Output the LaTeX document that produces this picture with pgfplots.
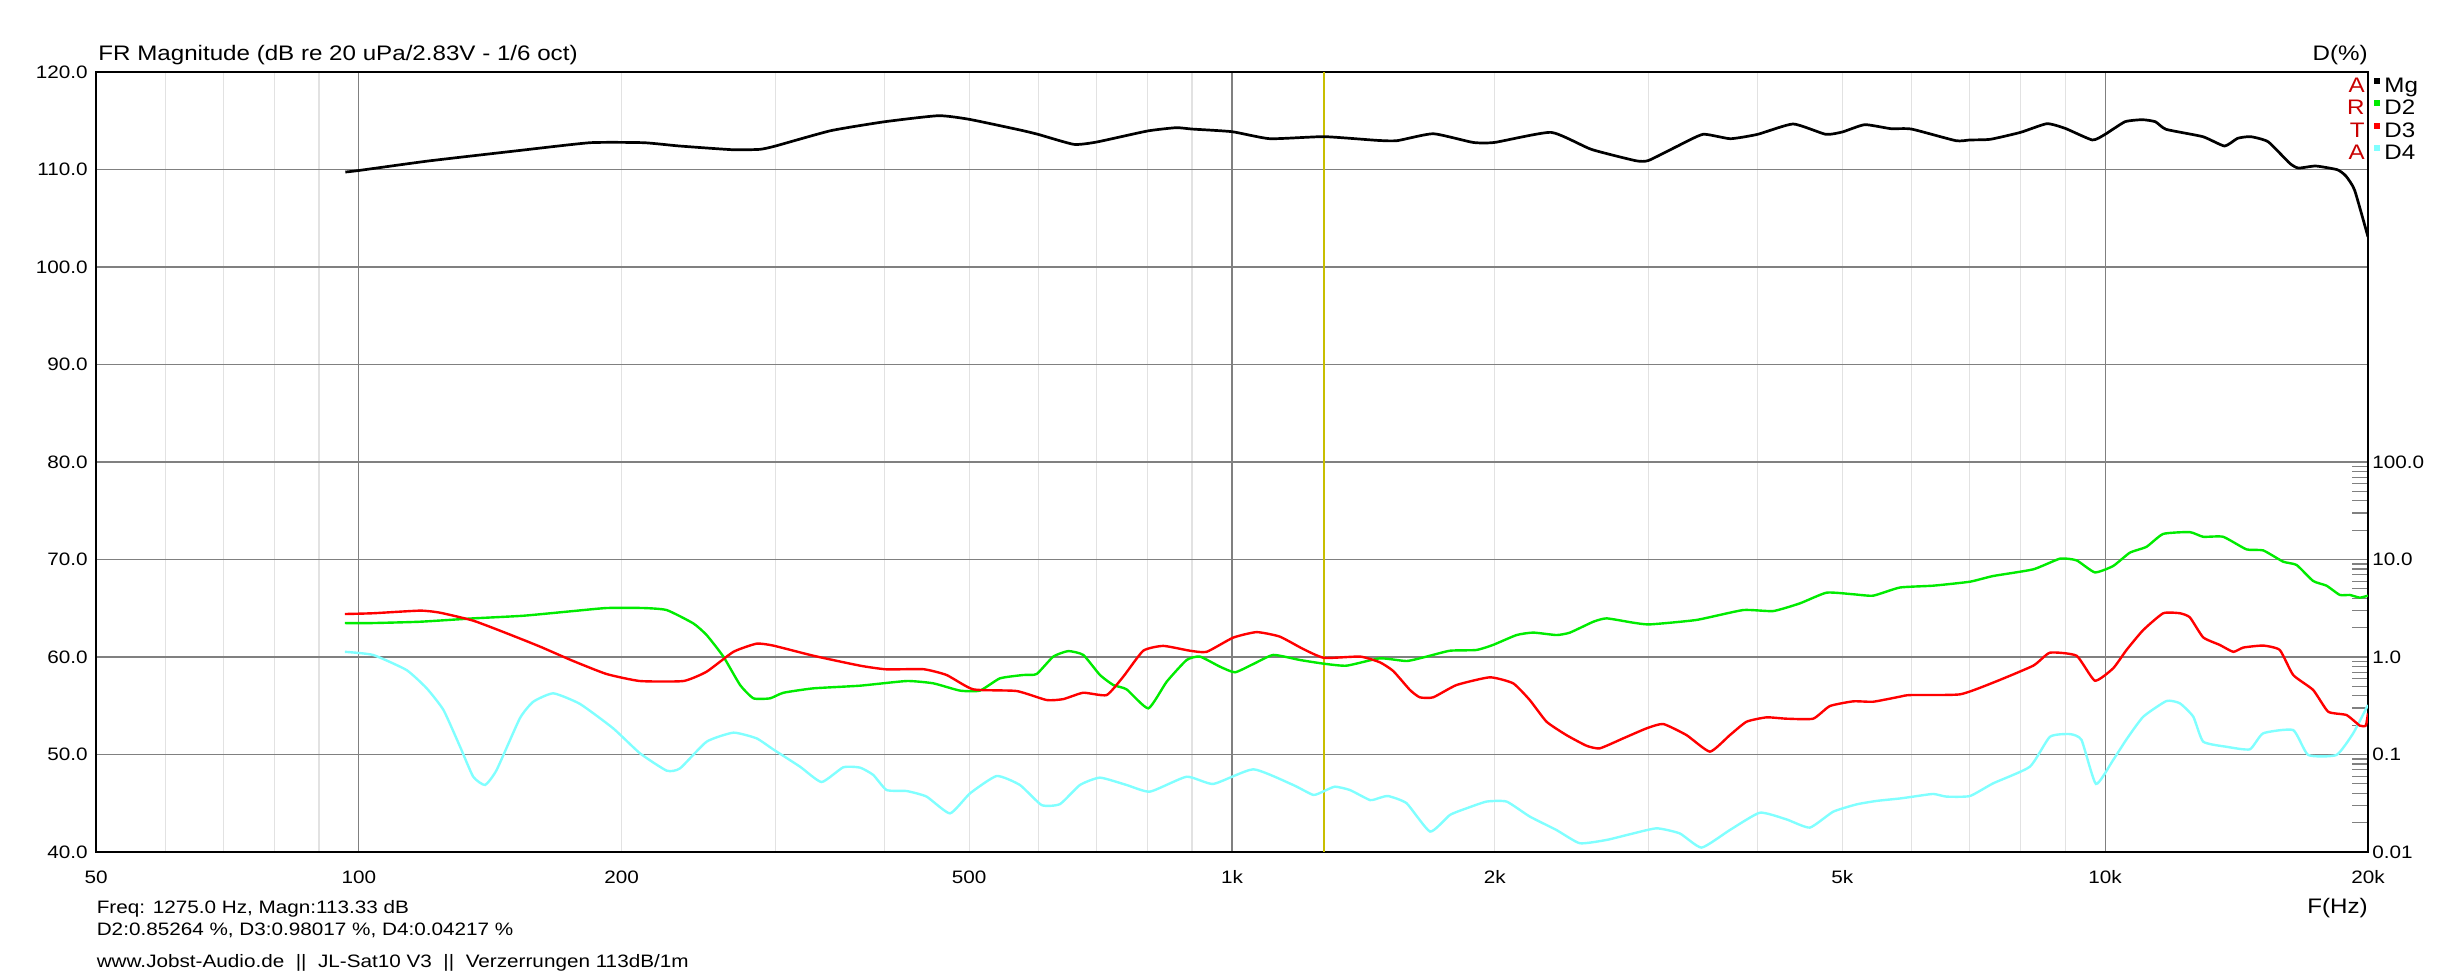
\documentclass[border=0pt]{standalone}
\usepackage{fontspec}
\setmainfont{Liberation Sans}[FakeStretch=1.15]
\usepackage{pgfplots}
\usepackage{pgfplotstable}
\pgfplotsset{compat=1.18}
\definecolor{gridgray}{RGB}{128,128,128}
\definecolor{lightgrid}{RGB}{226,226,226}
\definecolor{dtwo}{RGB}{0,235,0}
\definecolor{dthree}{RGB}{255,0,0}
\definecolor{dfour}{RGB}{128,255,255}
\definecolor{cursor}{RGB}{200,190,0}
\definecolor{artared}{RGB}{200,0,0}
\newcommand\smallf{\fontsize{9pt}{10.8pt}\selectfont}
\newcommand\titlef{\fontsize{10.5pt}{12.6pt}\selectfont}

\pgfplotstableread{
f v
96.5 109.74
100 109.9
120 110.87
152 111.93
184 112.75
212 112.75
233 112.41
268 112.03
288 112.07
300 112.41
347 113.98
400 114.9
461 115.52
500 115.15
572 114.05
600 113.6
659 112.58
700 112.82
800 113.95
863 114.29
900 114.15
1000 113.88
1105 113.16
1275 113.37
1466 112.99
1546 112.96
1700 113.67
1888 112.78
2000 112.78
2320 113.81
2579 112.07
2901 110.9
3000 110.93
3228 112.34
3463 113.61
3722 113.16
4000 113.61
4392 114.67
4786 113.61
5000 113.85
5305 114.6
5682 114.19
6000 114.15
6745 112.96
7000 113.03
7389 113.1
8000 113.81
8576 114.7
9000 114.22
9668 113.03
10000 113.61
10537 114.9
11029 115.11
11418 114.9
11744 114.12
12937 113.37
13701 112.41
14180 113.2
14675 113.37
15369 112.85
16275 110.63
16651 110.15
17423 110.36
18448 109.98
18870 109.33
19306 107.9
20000 103.1
}\magdata

\pgfplotstableread{
f v
96.4 2.23
103.8 2.23
117.5 2.30
135.2 2.49
154.3 2.65
176 2.96
192.2 3.18
211.8 3.18
225.2 3.03
241.6 2.21
250.2 1.68
261.5 1.01
273.3 0.516
283.1 0.377
295.8 0.377
306.4 0.43
331.6 0.477
375 0.508
424.1 0.567
454.9 0.537
488.1 0.452
514.4 0.452
542.3 0.604
576.8 0.654
597.4 0.669
624.2 1.01
649.4 1.15
675.6 1.05
706 0.654
731.3 0.516
757.4 0.466
802 0.2975
841.8 0.558
887.3 0.932
918.9 1.01
968.8 0.796
1008 0.697
1058 0.848
1115 1.05
1196 0.932
1275 0.853
1353 0.815
1477 0.969
1585 0.91
1671 1.01
1777 1.16
1905 1.18
1991 1.33
2118 1.68
2213 1.78
2353 1.68
2438 1.78
2593 2.30
2686 2.49
2880 2.25
3010 2.16
3404 2.40
3850 3.03
4167 2.96
4471 3.55
4797 4.57
5146 4.40
5426 4.26
5820 5.16
6355 5.39
7000 5.92
7443 6.77
8273 7.93
8877 10.2
9274 9.8
9732 7.38
10214 8.58
10673 11.75
11153 13.5
11654 18.3
12503 19.1
12950 17.1
13651 17.1
14518 12.7
15171 12.4
15993 9.5
16566 8.79
17308 6.02
17928 5.39
18570 4.33
19065 4.33
19574 4.06
20000 4.26
}\dtwodata

\pgfplotstableread{
f v
96.4 2.76
103.8 2.81
117.5 2.99
123.8 2.85
135.2 2.36
147.7 1.75
161.2 1.28
176 0.91
192.2 0.669
209.9 0.567
235.3 0.567
250.2 0.707
268.5 1.13
285.4 1.37
298.2 1.31
331.6 1.03
375 0.815
402.2 0.747
443.1 0.75
471.1 0.654
505.3 0.466
566.6 0.448
613.3 0.362
641 0.37
675.6 0.43
718.5 0.407
750.8 0.629
791.4 1.16
834.3 1.30
895.1 1.16
935.3 1.13
1003 1.58
1067 1.80
1134 1.62
1206 1.21
1275 0.98
1402 1.01
1477 0.882
1530 0.718
1599 0.459
1641 0.386
1700 0.386
1808 0.516
1974 0.619
2099 0.537
2193 0.362
2292 0.217
2416 0.158
2547 0.123
2638 0.1157
2806 0.1465
2984 0.1855
3118 0.2055
3316 0.158
3527 0.107
3717 0.158
3885 0.217
4095 0.2405
4316 0.233
4630 0.233
4838 0.314
5146 0.351
5426 0.348
5820 0.392
5975 0.407
6818 0.414
7443 0.546
8273 0.815
8645 1.107
9274 1.03
9732 0.572
10214 0.766
10579 1.18
11056 1.89
11654 2.81
12178 2.81
12503 2.55
12950 1.59
13530 1.33
14020 1.13
14395 1.25
15171 1.31
15850 1.18
16420 0.654
17308 0.459
18007 0.275
18900 0.254
19574 0.198
19888 0.198
20000 0.264
}\dthreedata

\pgfplotstableread{
f v
96.4 1.13
103.8 1.05
113.4 0.735
119.6 0.477
125 0.286
130.6 0.120
135.2 0.0592
139.5 0.0487
143.8 0.0693
152.9 0.235
158.4 0.348
167 0.424
179.2 0.33
195.6 0.1855
209.9 0.1028
225.2 0.0683
233.3 0.0722
250.2 0.1354
268.5 0.1675
285.4 0.1465
298.2 0.113
320.1 0.075
338.8 0.0522
358.7 0.0739
375 0.0734
388.3 0.0617
402.2 0.0432
424.1 0.0422
446.9 0.037
475.3 0.0249
501.2 0.04
537.6 0.0602
571.6 0.0487
605.3 0.0303
635.3 0.031
669.7 0.0487
706 0.0579
757.4 0.0487
805.5 0.0416
887.3 0.0592
952 0.0499
1058 0.0705
1175 0.0487
1239 0.0385
1275 0.0422
1312 0.0468
1365 0.0432
1439 0.0341
1477 0.036
1510 0.0375
1585 0.0316
1686 0.0162
1777 0.024
1857 0.0281
1957 0.0329
2063 0.0329
2193 0.0231
2353 0.0168
2502 0.0123
2686 0.0133
2855 0.0152
3064 0.0175
3258 0.0155
3450 0.0111
3717 0.0168
4023 0.0253
4316 0.0216
4589 0.0178
4881 0.0259
5192 0.0308
5471 0.0334
5820 0.0354
6029 0.037
6355 0.0394
6580 0.037
7000 0.0375
7443 0.0506
8200 0.075
8645 0.152
9112 0.162
9396 0.141
9760 0.0499
10214 0.0879
10579 0.143
11056 0.244
11756 0.354
12178 0.335
12617 0.244
12950 0.1355
13772 0.12
14646 0.113
15171 0.165
16420 0.178
17083 0.0989
18407 0.0989
19236 0.165
20000 0.322
}\dfourdata

\begin{document}
\begin{tikzpicture}
\useasboundingbox (-48pt,-62pt) rectangle (1184pt,426pt);
\begin{axis}[
  at={(0,0)}, anchor=south west,
  scale only axis, width=1136pt, height=390pt,
  xmode=log, xmin=50, xmax=20000, ymin=40, ymax=120,
  axis line style={line width=1pt, black},
  xtick={100,1000,10000},
  xticklabels={100,1k,10k},
  extra x ticks={50,200,500,2000,5000,20000},
  extra x tick labels={50,200,500,2k,5k,20k},
  extra x tick style={grid=none},
  minor xtick={60,70,80,90,200,300,400,500,600,700,800,900,2000,3000,4000,5000,6000,7000,8000,9000},
  ytick={40,50,60,70,80,90,100,110,120},
  yticklabels={40.0,50.0,60.0,70.0,80.0,90.0,100.0,110.0,120.0},
  major tick length=0pt, minor tick length=0pt,
  xmajorgrids, xminorgrids, ymajorgrids,
  major grid style={draw=gridgray, line width=0.6pt},
  minor grid style={draw=lightgrid, line width=0.6pt},
  tick label style={font=\smallf},
  xticklabel style={anchor=base, inner sep=0pt, yshift=-15.5pt},
  yticklabel style={anchor=east, inner sep=0pt, xshift=-4pt},
]
\addplot[cursor, line width=0.7pt] coordinates {(1275,40) (1275,120)};
\addplot[black, line width=1.35pt, smooth, tension=0.3] table[x=f, y=v] {\magdata};
\end{axis}
\begin{axis}[
  at={(0,0)}, anchor=south west,
  scale only axis, width=1136pt, height=390pt,
  xmode=log, xmin=50, xmax=20000,
  ymode=log, ymin=0.01, ymax=1e6,
  hide x axis,
  axis y line*=right,
  y axis line style={line width=1pt, black},
  ytick={0.01,0.1,1,10,100},
  yticklabels={0.01,0.1,1.0,10.0,100.0},
  minor ytick={0.02,0.03,0.04,0.05,0.06,0.07,0.08,0.09,0.2,0.3,0.4,0.5,0.6,0.7,0.8,0.9,2,3,4,5,6,7,8,9,20,30,40,50,60,70,80,90},
  tick align=inside,
  major tick length=0pt, minor tick length=7.8pt,
  minor tick style={draw=gridgray, line width=0.6pt},
  tick label style={font=\smallf},
  yticklabel style={anchor=west, inner sep=0pt, xshift=2pt},
]
\addplot[dfour, line width=1.2pt, smooth, tension=0.3] table[x=f, y=v] {\dfourdata};
\addplot[dtwo, line width=1.2pt, smooth, tension=0.3] table[x=f, y=v] {\dtwodata};
\addplot[dthree, line width=1.2pt, smooth, tension=0.3] table[x=f, y=v] {\dthreedata};
\end{axis}
% titles
\node[anchor=base west, inner sep=0pt, font=\titlef] at (1pt,395.5pt) {FR Magnitude (dB re 20 uPa/2.83V - 1/6 oct)};
\node[anchor=base east, inner sep=0pt, font=\titlef] at (1136pt,395.5pt) {D(\%)};
% ARTA and legend
\foreach \yy/\lab/\col/\ltr in {379.8/Mg/black/A, 368.6/D2/dtwo/R, 357.4/D3/dthree/T, 346.2/D4/dfour/A}{
  \node[anchor=base east, inner sep=0pt, font=\titlef, text=artared] at (1134.5pt,\yy pt) {\ltr};
  \fill[\col] (1139pt,\yy pt+4.3pt) rectangle (1142pt,\yy pt+7.3pt);
  \node[anchor=base west, inner sep=0pt, font=\titlef] at (1144pt,\yy pt) {\lab};
}
% bottom texts
\node[anchor=base east, inner sep=0pt, font=\titlef] at (1136pt,-30.5pt) {F(Hz)};
\node[anchor=base west, inner sep=0pt, font=\smallf] at (0.2pt,-30.5pt) {Freq: 1275.0 Hz, Magn:113.33 dB};
\node[anchor=base west, inner sep=0pt, font=\smallf] at (0.2pt,-41.5pt) {D2:0.85264 \%, D3:0.98017 \%, D4:0.04217 \%};
\node[anchor=base west, inner sep=0pt, font=\smallf] at (0.2pt,-57.5pt) {www.Jobst-Audio.de~~||~~JL-Sat10 V3~~||~~Verzerrungen 113dB/1m};
\end{tikzpicture}
\end{document}
